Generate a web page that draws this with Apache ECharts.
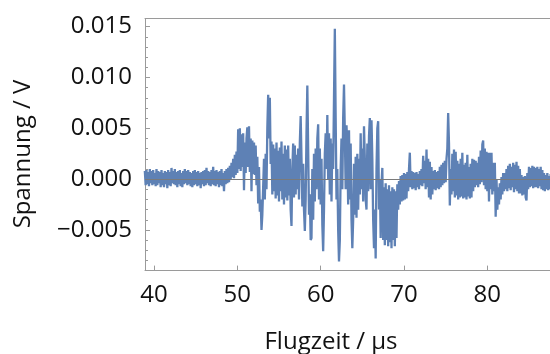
<!DOCTYPE html>
<html><head><meta charset="utf-8">
<script src="https://cdn.jsdelivr.net/npm/echarts@6/dist/echarts.min.js"></script>
<style>html,body{margin:0;padding:0;background:#fff}#c{width:550px;height:354px}</style>
</head><body><div id="c"></div>
<script>
// Flight-time axis: first sample and sample spacing (µs)
const tStart = 38.9;
const tStep = 0.1;
// Voltage samples (V), one row per µs
const voltage = [
 0.0008,-0.0006,0.0009,-0.0005,0.0007,-0.0007,0.0010,-0.0004,0.0008,-0.0006,
 0.0009,-0.0005,0.0006,-0.0007,0.0010,-0.0006,0.0008,-0.0004,0.0007,-0.0008,
 0.0009,-0.0006,0.0006,-0.0008,0.0008,-0.0005,0.0007,-0.0009,0.0009,-0.0006,
 0.0007,-0.0007,0.0011,-0.0004,0.0008,-0.0005,0.0010,-0.0006,0.0007,-0.0008,
 0.0008,-0.0005,0.0009,-0.0007,0.0006,-0.0008,0.0008,-0.0005,0.0010,-0.0004,
 0.0008,-0.0006,0.0009,-0.0005,0.0007,-0.0007,0.0006,-0.0008,0.0008,-0.0006,
 0.0009,-0.0005,0.0007,-0.0007,0.0008,-0.0006,0.0006,-0.0009,0.0007,-0.0005,
 0.0008,-0.0007,0.0009,-0.0006,0.0011,-0.0004,0.0008,-0.0006,0.0007,-0.0007,
 0.0009,-0.0005,0.0012,-0.0006,0.0008,-0.0007,0.0009,-0.0005,0.0007,-0.0008,
 0.0008,-0.0006,0.0010,-0.0007,0.0006,-0.0012,0.0008,-0.0005,0.0010,-0.0004,
 0.0011,-0.0003,0.0013,0.0000,0.0016,0.0002,0.0020,0.0001,0.0024,0.0004,
 0.0027,0.0006,0.0049,0.0010,0.0050,0.0008,0.0044,0.0012,0.0045,-0.0011,
 0.0036,0.0006,0.0040,0.0051,0.0012,0.0052,0.0007,0.0040,-0.0012,0.0038,
 0.0005,0.0036,0.0004,0.0033,-0.0006,0.0022,-0.0024,0.0012,-0.0032,-0.0020,
 -0.0050,-0.0035,-0.0008,0.0020,-0.0020,0.0025,-0.0010,0.0050,0.0083,0.0040,
 0.0080,0.0015,0.0037,-0.0015,0.0034,-0.0012,0.0030,-0.0019,0.0036,-0.0016,
 0.0028,-0.0022,0.0031,-0.0012,0.0037,-0.0020,0.0025,-0.0025,0.0033,-0.0018,
 0.0029,-0.0021,0.0033,-0.0016,0.0020,-0.0030,-0.0046,0.0010,0.0035,-0.0018,
 0.0033,-0.0015,0.0024,-0.0010,0.0030,-0.0020,0.0036,0.0062,0.0020,-0.0027,
 0.0015,-0.0030,-0.0051,-0.0020,0.0045,0.0092,0.0030,-0.0035,-0.0015,-0.0060,
 -0.0058,0.0010,-0.0040,0.0025,-0.0022,0.0030,-0.0010,0.0040,0.0054,-0.0020,
 0.0030,-0.0025,0.0020,-0.0045,-0.0071,-0.0030,0.0025,0.0045,0.0010,0.0063,
 0.0000,0.0045,-0.0015,0.0040,-0.0022,0.0035,0.0010,0.0080,0.0148,0.0060,
 -0.0020,0.0010,-0.0050,-0.0081,-0.0060,0.0010,0.0040,-0.0010,0.0060,0.0093,
 0.0045,-0.0010,0.0053,0.0030,-0.0025,0.0048,-0.0020,0.0035,-0.0040,-0.0068,
 -0.0040,0.0015,-0.0035,0.0022,-0.0038,0.0025,-0.0030,0.0020,-0.0015,0.0045,
 -0.0010,0.0030,-0.0022,0.0052,0.0020,-0.0020,-0.0030,0.0035,-0.0012,0.0042,
 0.0060,-0.0010,0.0058,0.0020,-0.0040,-0.0068,-0.0030,-0.0078,0.0010,0.0050,
 0.0057,-0.0030,0.0000,-0.0058,-0.0005,0.0011,-0.0060,-0.0008,-0.0065,-0.0004,
 -0.0060,-0.0010,-0.0066,-0.0006,-0.0062,-0.0012,-0.0068,-0.0008,-0.0060,-0.0010,
 -0.0066,-0.0012,-0.0058,-0.0005,-0.0030,-0.0002,-0.0025,0.0003,-0.0022,0.0004,
 -0.0021,0.0006,-0.0020,0.0005,-0.0019,0.0007,-0.0012,0.0010,0.0026,-0.0008,
 0.0008,-0.0010,0.0007,-0.0009,0.0006,-0.0011,0.0007,-0.0008,0.0005,-0.0010,
 0.0008,-0.0006,0.0010,-0.0007,0.0023,-0.0004,0.0018,-0.0010,0.0029,-0.0008,
 0.0020,-0.0018,0.0017,-0.0020,0.0012,-0.0015,0.0008,-0.0010,0.0009,-0.0011,
 0.0007,-0.0009,0.0008,-0.0010,0.0012,-0.0008,0.0014,-0.0006,0.0016,-0.0004,
 0.0018,-0.0003,0.0020,0.0030,0.0065,0.0035,-0.0026,0.0010,-0.0015,0.0025,
 -0.0012,0.0029,-0.0018,0.0027,-0.0016,0.0018,-0.0020,0.0015,-0.0018,0.0020,
 -0.0017,0.0026,-0.0019,0.0014,-0.0018,0.0016,-0.0020,0.0024,-0.0017,0.0012,
 -0.0019,0.0015,-0.0018,0.0020,-0.0012,0.0019,-0.0008,0.0018,-0.0006,0.0016,
 -0.0008,0.0022,-0.0005,0.0028,-0.0003,0.0034,0.0038,-0.0006,0.0030,-0.0010,
 0.0027,-0.0012,0.0026,-0.0022,0.0026,-0.0010,0.0026,-0.0015,0.0016,-0.0012,
 0.0016,-0.0037,0.0000,-0.0030,-0.0008,-0.0025,-0.0004,-0.0020,0.0002,-0.0015,
 0.0006,-0.0012,0.0006,-0.0010,0.0010,-0.0012,0.0013,-0.0009,0.0015,-0.0011,
 0.0012,-0.0008,0.0016,-0.0013,0.0014,-0.0010,0.0017,-0.0012,0.0013,-0.0014,
 0.0010,-0.0014,0.0004,-0.0016,0.0002,-0.0015,0.0003,-0.0018,-0.0021,0.0006,
 -0.0010,0.0012,-0.0008,0.0011,-0.0007,0.0013,-0.0009,0.0012,-0.0008,0.0011,
 -0.0008,0.0012,-0.0009,0.0010,-0.0007,0.0012,-0.0010,0.0009,-0.0011,0.0006,
 -0.0012,0.0004,-0.0010,0.0006,-0.0011,0.0003,-0.0010,0.0005
];
const xTicks = [40, 50, 60, 70, 80];
const xTickLabels = ['40', '50', '60', '70', '80'];
const yTicks = [-0.005, 0, 0.005, 0.010, 0.015];
const yTickLabels = ['\u22120.005', '0.000', '0.005', '0.010', '0.015'];
const yMinorTicks = [-0.008,-0.007,-0.006,-0.004,-0.003,-0.002,-0.001,0.001,0.002,0.003,0.004,0.006,0.007,0.008,0.009,0.011,0.012,0.013,0.014];
const xTitle = 'Flugzeit / \u00b5s';
const yTitle = 'Spannung / V';

const FONT = '"Open Sans", "DejaVu Sans", sans-serif';
const frameColor = '#9a9a9a';
const points = voltage.map((v, i) => [+(tStart + i * tStep).toFixed(2), v]);
const X_MIN = 38.92, X_MAX = 87.52, Y_MIN = -0.0090, Y_MAX = 0.0158;

const chart = echarts.init(document.getElementById('c'), null, {renderer: 'canvas'});
chart.setOption({
  animation: false,
  backgroundColor: '#fff',
  grid: {left: 145, top: 18.5, right: 0, bottom: 83.4, show: false},
  xAxis: [{
    type: 'value', min: X_MIN, max: X_MAX, position: 'bottom',
    axisLine: {show: true, onZero: false, lineStyle: {color: frameColor, width: 1}},
    splitLine: {show: false},
    axisTick: {show: true, inside: true, length: 5, lineStyle: {color: frameColor}, customValues: xTicks},
    axisLabel: {show: true, customValues: xTicks, margin: 13, color: '#111', fontSize: 24, fontFamily: FONT,
      formatter: v => xTickLabels[xTicks.indexOf(v)] ?? ''}
  }, {
    type: 'value', min: X_MIN, max: X_MAX, position: 'top',
    axisLine: {show: true, onZero: false, lineStyle: {color: frameColor, width: 1}},
    splitLine: {show: false}, axisTick: {show: false}, axisLabel: {show: false}
  }],
  yAxis: [{
    type: 'value', min: Y_MIN, max: Y_MAX, position: 'left',
    axisLine: {show: true, onZero: false, lineStyle: {color: frameColor, width: 1}},
    splitLine: {show: false},
    axisTick: {show: true, inside: true, length: 5, lineStyle: {color: frameColor}, customValues: yTicks},
    axisLabel: {show: true, customValues: yTicks, margin: 13, color: '#111', fontSize: 24, fontFamily: FONT,
      formatter: v => yTickLabels[yTicks.findIndex(t => Math.abs(t - v) < 1e-9)] ?? ''}
  }, {
    type: 'value', min: Y_MIN, max: Y_MAX, position: 'left',
    axisLine: {show: false, onZero: false}, splitLine: {show: false}, axisLabel: {show: false},
    axisTick: {show: true, inside: true, length: 3, lineStyle: {color: frameColor}, customValues: yMinorTicks}
  }],
  series: [{
    type: 'line',
    data: points,
    showSymbol: false,
    symbol: 'none',
    sampling: null,
    lineStyle: {color: '#5E81B5', width: 2.3},
    z: 2,
    markLine: {
      silent: true, symbol: 'none', label: {show: false},
      lineStyle: {color: '#7a7a7a', width: 1, type: 'solid'},
      data: [{yAxis: 0}]
    }
  }],
  graphic: [
    {type: 'text', x: 331, y: 342, style: {text: xTitle, font: '24px ' + FONT, fill: '#111', align: 'center', verticalAlign: 'middle'}},
    {type: 'text', x: 23, y: 154, rotation: Math.PI / 2, style: {text: yTitle, font: '24px ' + FONT, fill: '#111', align: 'center', verticalAlign: 'middle'}}
  ]
});
</script></body></html>
